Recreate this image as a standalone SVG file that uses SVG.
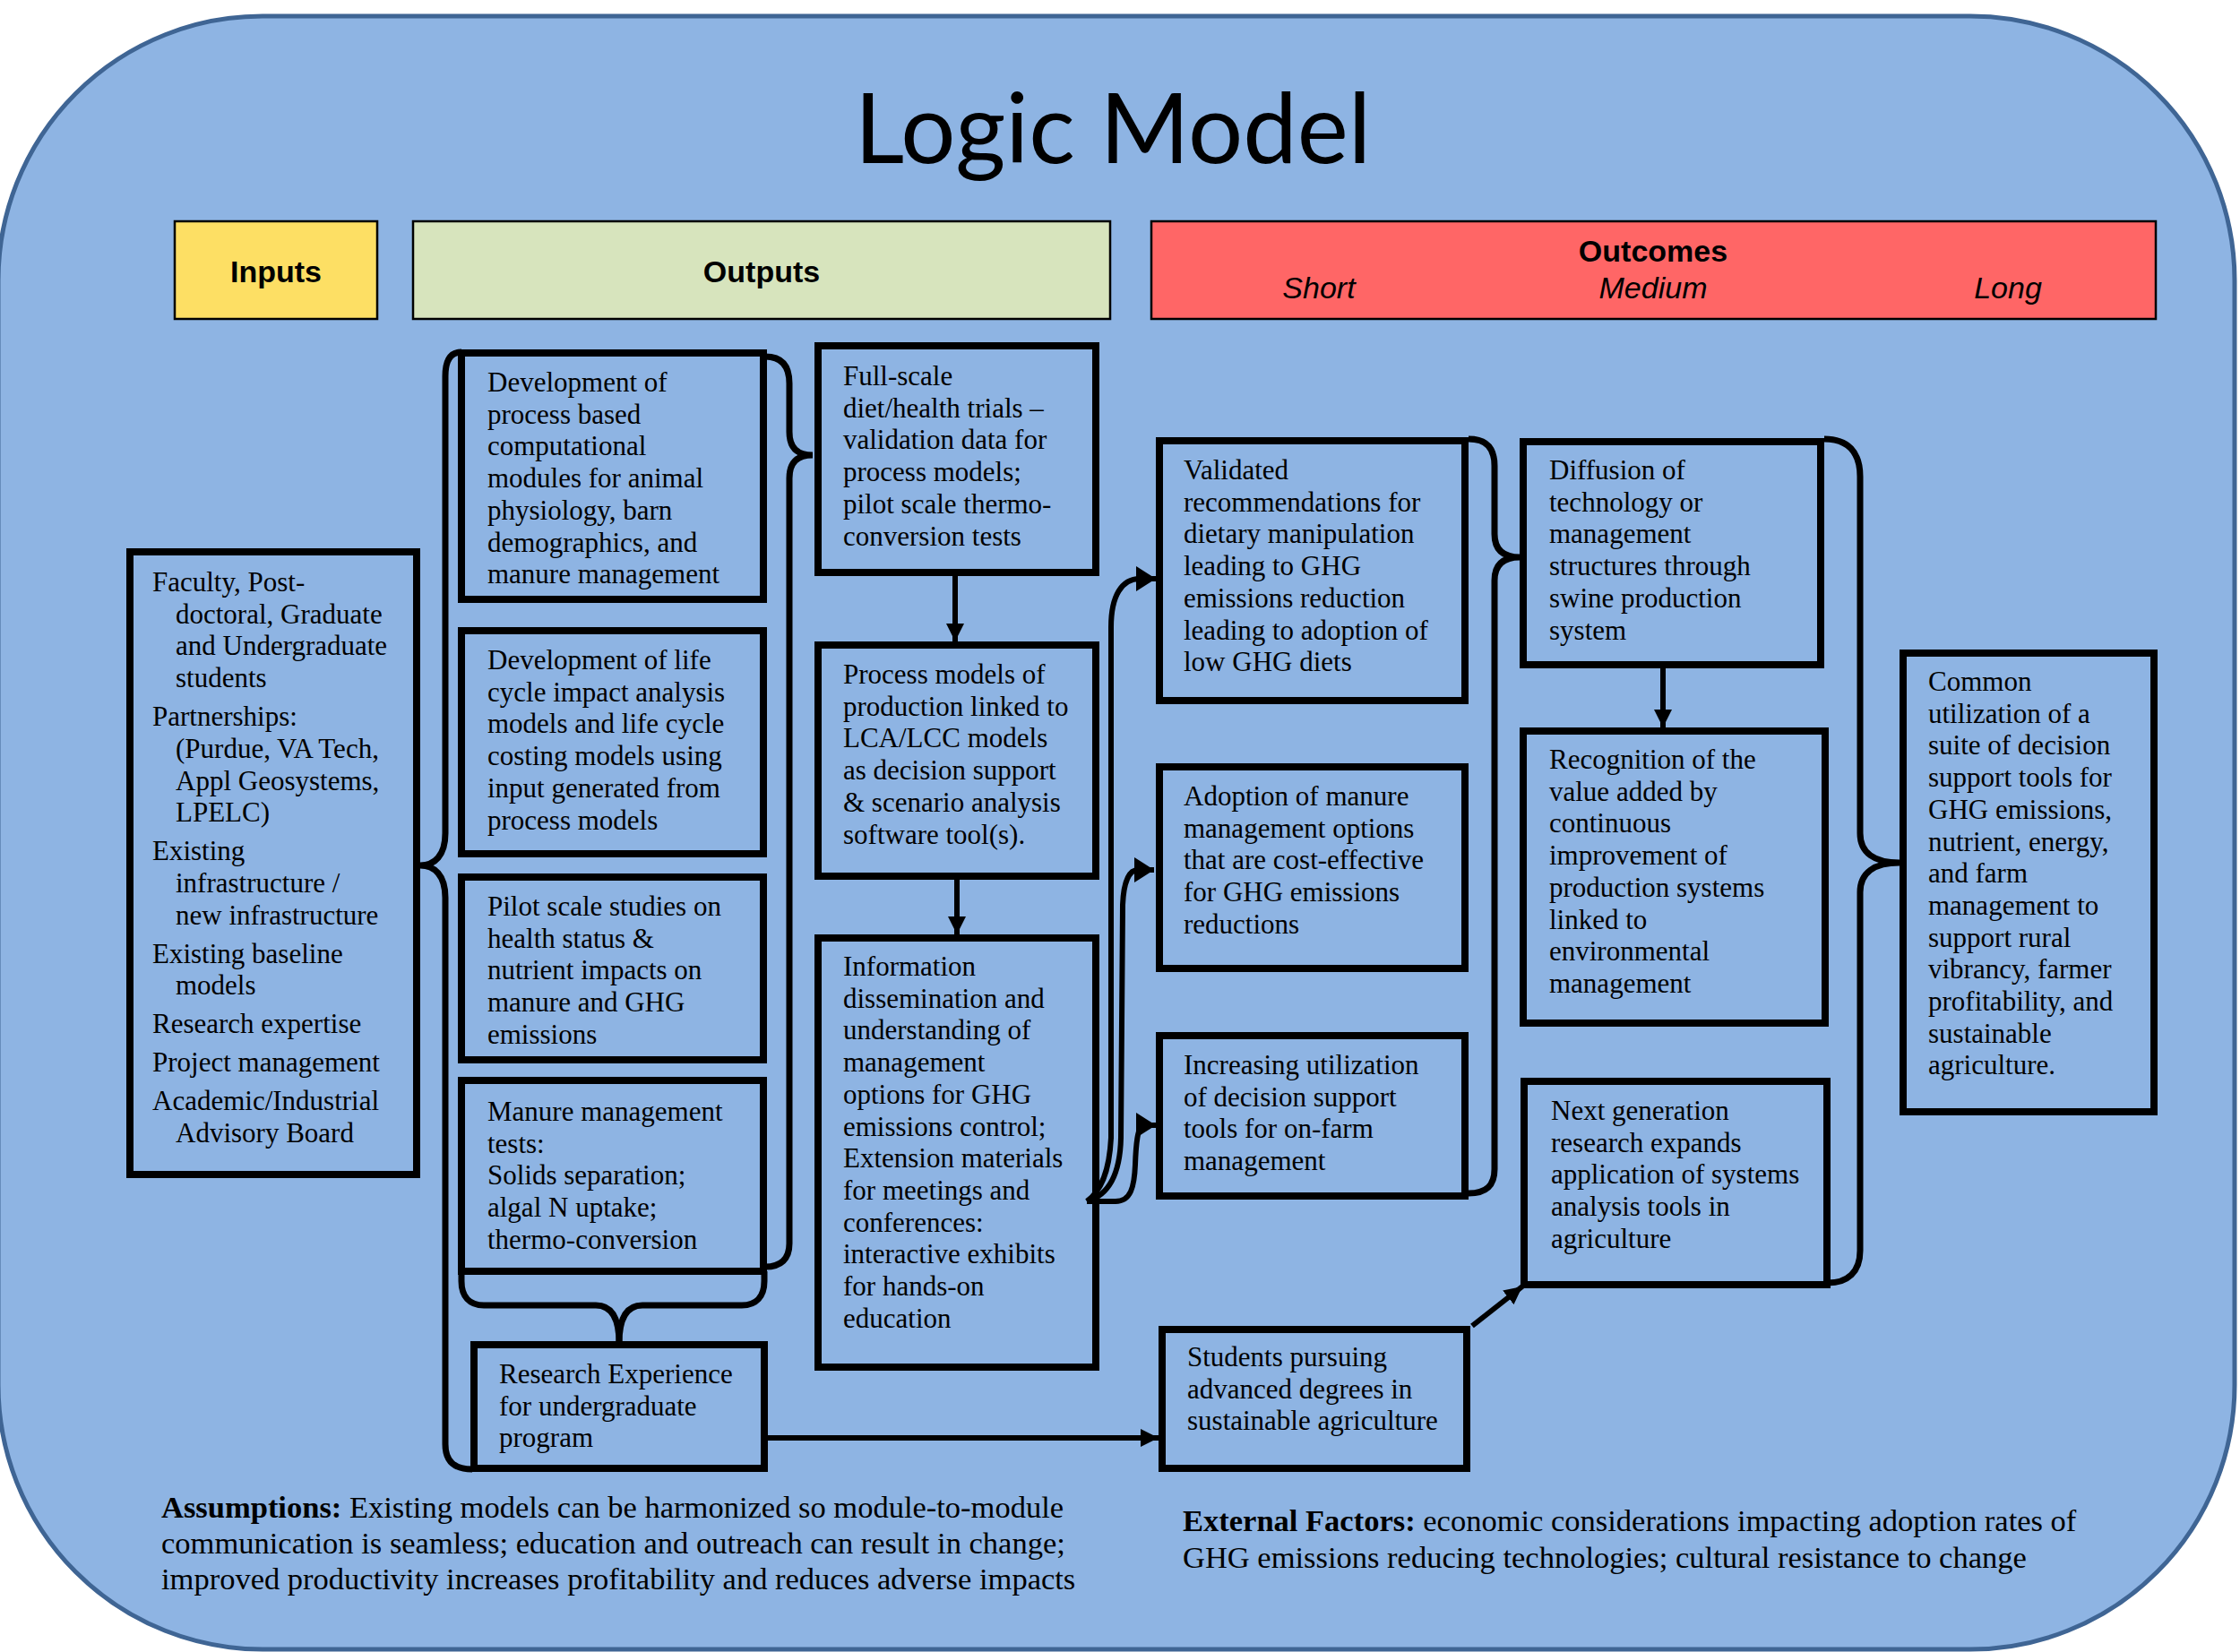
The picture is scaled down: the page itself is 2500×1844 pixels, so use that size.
<svg xmlns="http://www.w3.org/2000/svg" width="2500" height="1844" viewBox="0 0 2500 1844">
  <defs>
    <style>
      .bg { fill: #8EB4E3; stroke: #3F6594; stroke-width: 5; }
      .hdr { stroke: #000; stroke-width: 2.5; }
      .box { fill: none; stroke: #000; stroke-width: 8; }
      .t { font-family: "Liberation Serif", "Times New Roman", serif; font-size: 31px; fill: #000; }
      .hb { font-family: "Liberation Sans", Arial, sans-serif; font-size: 34px; font-weight: bold; fill: #000; }
      .hi { font-family: "Liberation Sans", Arial, sans-serif; font-size: 34px; font-style: italic; fill: #000; }
      .title { font-family: Lato, "Open Sans", sans-serif; font-size: 108px; fill: #000; }
      .foot { font-family: "Liberation Serif", "Times New Roman", serif; font-size: 34.5px; fill: #000; }
      .conn { fill: none; stroke: #000; stroke-width: 6; }
      .brace { fill: none; stroke: #000; stroke-width: 7; }
    </style>
    <marker id="arrow" markerUnits="userSpaceOnUse" viewBox="0 0 20 20" refX="20" refY="10" markerWidth="20" markerHeight="20" orient="auto">
      <path d="M0,0 L20,10 L0,20 z" fill="#000"/>
    </marker>
    <marker id="arrowLg" markerUnits="userSpaceOnUse" viewBox="0 0 22 28" refX="22" refY="14" markerWidth="22" markerHeight="28" orient="auto">
      <path d="M0,0 L22,14 L0,28 z" fill="#000"/>
    </marker>
  </defs>

  <!-- rounded backdrop -->
  <rect class="bg" x="-2" y="18" width="2496" height="1823" rx="295" ry="295"/>

  <text class="title" x="1242" y="182" text-anchor="middle">Logic Model</text>

  <!-- column headers -->
  <g id="header-inputs">
    <rect class="hdr" x="195" y="247" width="226" height="109" fill="#FDDF64"/>
    <text class="hb" x="308" y="315" text-anchor="middle">Inputs</text>
  </g>
  <g id="header-outputs">
    <rect class="hdr" x="461" y="247" width="778" height="109" fill="#D7E4BD"/>
    <text class="hb" x="850" y="315" text-anchor="middle">Outputs</text>
  </g>
  <g id="header-outcomes">
    <rect class="hdr" x="1285" y="247" width="1121" height="109" fill="#FF6666"/>
    <text class="hb" x="1845" y="292" text-anchor="middle">Outcomes</text>
    <text class="hi" x="1472" y="333" text-anchor="middle">Short</text>
    <text class="hi" x="1845" y="333" text-anchor="middle">Medium</text>
    <text class="hi" x="2241" y="333" text-anchor="middle">Long</text>
  </g>

  <!-- connectors: braces and arrows -->
  <g id="connectors">
    <path class="brace" d="M515,393 C503,393 497,402 497,420 L497,930 C497,955 485,966 469,966 C485,966 497,977 497,1002 L497,1612 C497,1630 506,1640 527,1640"/>
    <path class="brace" d="M854,398 C872,398 881,408 881,428 L881,482 C881,500 890,508 907,508 C890,508 881,516 881,534 L881,1388 C881,1405 872,1414 854,1414"/>
    <path class="brace" d="M515,1419 L515,1430 C515,1447 524,1457 540,1457 L665,1457 C682,1457 691,1470 691,1499"/>
    <path class="brace" d="M853,1419 L853,1430 C853,1447 844,1457 828,1457 L717,1457 C700,1457 691,1470 691,1499"/>
    <path class="brace" d="M1639,490 C1659,490 1668,500 1668,520 L1668,596 C1668,614 1678,622 1696,622 C1678,622 1668,630 1668,648 L1668,1305 C1668,1323 1659,1332 1639,1332"/>
    <path class="brace" d="M2036,490 C2062,490 2076,504 2076,532 L2076,930 C2076,952 2092,963 2120,963 C2092,963 2076,974 2076,996 L2076,1396 C2076,1420 2062,1432 2040,1432"/>

    <path class="conn" d="M1066,643 L1066,716" marker-end="url(#arrow)"/>
    <path class="conn" d="M1068,982 L1068,1043" marker-end="url(#arrow)"/>
    <path class="conn" d="M1856,746 L1856,812" marker-end="url(#arrow)"/>
    <path class="conn" d="M857,1605 L1293,1605" marker-end="url(#arrow)"/>
    <path class="conn" d="M1643,1480 L1699,1436" marker-end="url(#arrow)"/>

    <path class="conn" d="M1213,1341 C1228,1330 1238,1310 1240,1270 L1240,700 C1240,665 1252,646 1272,646 L1290,646" marker-end="url(#arrowLg)"/>
    <path class="conn" d="M1213,1341 C1235,1335 1250,1315 1251,1270 L1253,1010 C1254,985 1260,971 1270,971 L1288,971" marker-end="url(#arrowLg)"/>
    <path class="conn" d="M1213,1341 L1245,1341 C1262,1341 1266,1325 1267,1300 C1268,1270 1271,1256 1276,1256 L1290,1256" marker-end="url(#arrowLg)"/>
  </g>

  <!-- inputs -->
  <g id="node-inputs">
    <rect class="box" x="145" y="616" width="320" height="695"/>
    <text class="t">
      <tspan x="170" y="660">Faculty, Post-</tspan>
      <tspan x="196" y="695.7">doctoral, Graduate</tspan>
      <tspan x="196" y="731.4">and Undergraduate</tspan>
      <tspan x="196" y="767.1">students</tspan>
      <tspan x="170" y="810.1">Partnerships:</tspan>
      <tspan x="196" y="845.8">(Purdue, VA Tech,</tspan>
      <tspan x="196" y="881.5">Appl Geosystems,</tspan>
      <tspan x="196" y="917.2">LPELC)</tspan>
      <tspan x="170" y="960.2">Existing</tspan>
      <tspan x="196" y="995.9">infrastructure /</tspan>
      <tspan x="196" y="1031.6">new infrastructure</tspan>
      <tspan x="170" y="1074.6">Existing baseline</tspan>
      <tspan x="196" y="1110.3">models</tspan>
      <tspan x="170" y="1153.3">Research expertise</tspan>
      <tspan x="170" y="1196.3">Project management</tspan>
      <tspan x="170" y="1239.3">Academic/Industrial</tspan>
      <tspan x="196" y="1275">Advisory Board</tspan>
    </text>
  </g>

  <!-- outputs, first column -->
  <g id="node-process-modules">
    <rect class="box" x="515" y="394" width="337" height="275"/>
    <text class="t">
      <tspan x="544" y="437">Development of</tspan>
      <tspan x="544" dy="35.7">process based</tspan>
      <tspan x="544" dy="35.7">computational</tspan>
      <tspan x="544" dy="35.7">modules for animal</tspan>
      <tspan x="544" dy="35.7">physiology, barn</tspan>
      <tspan x="544" dy="35.7">demographics, and</tspan>
      <tspan x="544" dy="35.7">manure management</tspan>
    </text>
  </g>
  <g id="node-lca-models">
    <rect class="box" x="515" y="704" width="337" height="249"/>
    <text class="t">
      <tspan x="544" y="747">Development of life</tspan>
      <tspan x="544" dy="35.7">cycle impact analysis</tspan>
      <tspan x="544" dy="35.7">models and life cycle</tspan>
      <tspan x="544" dy="35.7">costing models using</tspan>
      <tspan x="544" dy="35.7">input generated from</tspan>
      <tspan x="544" dy="35.7">process models</tspan>
    </text>
  </g>
  <g id="node-pilot-studies">
    <rect class="box" x="515" y="979" width="337" height="204"/>
    <text class="t">
      <tspan x="544" y="1022">Pilot scale studies on</tspan>
      <tspan x="544" dy="35.7">health status &amp;</tspan>
      <tspan x="544" dy="35.7">nutrient impacts on</tspan>
      <tspan x="544" dy="35.7">manure and GHG</tspan>
      <tspan x="544" dy="35.7">emissions</tspan>
    </text>
  </g>
  <g id="node-manure-tests">
    <rect class="box" x="515" y="1206" width="337" height="213"/>
    <text class="t">
      <tspan x="544" y="1251">Manure management</tspan>
      <tspan x="544" dy="35.7">tests:</tspan>
      <tspan x="544" dy="35.7">Solids separation;</tspan>
      <tspan x="544" dy="35.7">algal N uptake;</tspan>
      <tspan x="544" dy="35.7">thermo-conversion</tspan>
    </text>
  </g>
  <g id="node-reu">
    <rect class="box" x="529" y="1501" width="324" height="138"/>
    <text class="t">
      <tspan x="557" y="1544">Research Experience</tspan>
      <tspan x="557" dy="35.7">for undergraduate</tspan>
      <tspan x="557" dy="35.7">program</tspan>
    </text>
  </g>

  <!-- outputs, second column -->
  <g id="node-full-scale">
    <rect class="box" x="913" y="386" width="310" height="253"/>
    <text class="t">
      <tspan x="941" y="430">Full-scale</tspan>
      <tspan x="941" dy="35.7">diet/health trials –</tspan>
      <tspan x="941" dy="35.7">validation data for</tspan>
      <tspan x="941" dy="35.7">process models;</tspan>
      <tspan x="941" dy="35.7">pilot scale thermo-</tspan>
      <tspan x="941" dy="35.7">conversion tests</tspan>
    </text>
  </g>
  <g id="node-linked-models">
    <rect class="box" x="913" y="720" width="310" height="258"/>
    <text class="t">
      <tspan x="941" y="763">Process models of</tspan>
      <tspan x="941" dy="35.7">production linked to</tspan>
      <tspan x="941" dy="35.7">LCA/LCC models</tspan>
      <tspan x="941" dy="35.7">as decision support</tspan>
      <tspan x="941" dy="35.7">&amp; scenario analysis</tspan>
      <tspan x="941" dy="35.7">software tool(s).</tspan>
    </text>
  </g>
  <g id="node-dissemination">
    <rect class="box" x="913" y="1047" width="310" height="479"/>
    <text class="t">
      <tspan x="941" y="1089">Information</tspan>
      <tspan x="941" dy="35.7">dissemination and</tspan>
      <tspan x="941" dy="35.7">understanding of</tspan>
      <tspan x="941" dy="35.7">management</tspan>
      <tspan x="941" dy="35.7">options for GHG</tspan>
      <tspan x="941" dy="35.7">emissions control;</tspan>
      <tspan x="941" dy="35.7">Extension materials</tspan>
      <tspan x="941" dy="35.7">for meetings and</tspan>
      <tspan x="941" dy="35.7">conferences:</tspan>
      <tspan x="941" dy="35.7">interactive exhibits</tspan>
      <tspan x="941" dy="35.7">for hands-on</tspan>
      <tspan x="941" dy="35.7">education</tspan>
    </text>
  </g>

  <!-- short-term outcomes -->
  <g id="node-validated">
    <rect class="box" x="1294" y="492" width="341" height="290"/>
    <text class="t">
      <tspan x="1321" y="535">Validated</tspan>
      <tspan x="1321" dy="35.7">recommendations for</tspan>
      <tspan x="1321" dy="35.7">dietary manipulation</tspan>
      <tspan x="1321" dy="35.7">leading to GHG</tspan>
      <tspan x="1321" dy="35.7">emissions reduction</tspan>
      <tspan x="1321" dy="35.7">leading to adoption of</tspan>
      <tspan x="1321" dy="35.7">low GHG diets</tspan>
    </text>
  </g>
  <g id="node-adoption">
    <rect class="box" x="1294" y="856" width="341" height="225"/>
    <text class="t">
      <tspan x="1321" y="899">Adoption of manure</tspan>
      <tspan x="1321" dy="35.7">management options</tspan>
      <tspan x="1321" dy="35.7">that are cost-effective</tspan>
      <tspan x="1321" dy="35.7">for GHG emissions</tspan>
      <tspan x="1321" dy="35.7">reductions</tspan>
    </text>
  </g>
  <g id="node-utilization">
    <rect class="box" x="1294" y="1156" width="341" height="179"/>
    <text class="t">
      <tspan x="1321" y="1199">Increasing utilization</tspan>
      <tspan x="1321" dy="35.7">of decision support</tspan>
      <tspan x="1321" dy="35.7">tools for on-farm</tspan>
      <tspan x="1321" dy="35.7">management</tspan>
    </text>
  </g>
  <g id="node-students">
    <rect class="box" x="1297" y="1484" width="340" height="155"/>
    <text class="t">
      <tspan x="1325" y="1525">Students pursuing</tspan>
      <tspan x="1325" dy="35.7">advanced degrees in</tspan>
      <tspan x="1325" dy="35.7">sustainable agriculture</tspan>
    </text>
  </g>

  <!-- medium-term outcomes -->
  <g id="node-diffusion">
    <rect class="box" x="1700" y="493" width="332" height="249"/>
    <text class="t">
      <tspan x="1729" y="535">Diffusion of</tspan>
      <tspan x="1729" dy="35.7">technology or</tspan>
      <tspan x="1729" dy="35.7">management</tspan>
      <tspan x="1729" dy="35.7">structures through</tspan>
      <tspan x="1729" dy="35.7">swine production</tspan>
      <tspan x="1729" dy="35.7">system</tspan>
    </text>
  </g>
  <g id="node-recognition">
    <rect class="box" x="1700" y="816" width="337" height="326"/>
    <text class="t">
      <tspan x="1729" y="858">Recognition of the</tspan>
      <tspan x="1729" dy="35.7">value added by</tspan>
      <tspan x="1729" dy="35.7">continuous</tspan>
      <tspan x="1729" dy="35.7">improvement of</tspan>
      <tspan x="1729" dy="35.7">production systems</tspan>
      <tspan x="1729" dy="35.7">linked to</tspan>
      <tspan x="1729" dy="35.7">environmental</tspan>
      <tspan x="1729" dy="35.7">management</tspan>
    </text>
  </g>
  <g id="node-next-generation">
    <rect class="box" x="1701" y="1207" width="338" height="227"/>
    <text class="t">
      <tspan x="1731" y="1250">Next generation</tspan>
      <tspan x="1731" dy="35.7">research expands</tspan>
      <tspan x="1731" dy="35.7">application of systems</tspan>
      <tspan x="1731" dy="35.7">analysis tools in</tspan>
      <tspan x="1731" dy="35.7">agriculture</tspan>
    </text>
  </g>

  <!-- long-term outcome -->
  <g id="node-common-utilization">
    <rect class="box" x="2124" y="729" width="280" height="512"/>
    <text class="t">
      <tspan x="2152" y="771">Common</tspan>
      <tspan x="2152" dy="35.7">utilization of a</tspan>
      <tspan x="2152" dy="35.7">suite of decision</tspan>
      <tspan x="2152" dy="35.7">support tools for</tspan>
      <tspan x="2152" dy="35.7">GHG emissions,</tspan>
      <tspan x="2152" dy="35.7">nutrient, energy,</tspan>
      <tspan x="2152" dy="35.7">and farm</tspan>
      <tspan x="2152" dy="35.7">management to</tspan>
      <tspan x="2152" dy="35.7">support rural</tspan>
      <tspan x="2152" dy="35.7">vibrancy, farmer</tspan>
      <tspan x="2152" dy="35.7">profitability, and</tspan>
      <tspan x="2152" dy="35.7">sustainable</tspan>
      <tspan x="2152" dy="35.7">agriculture.</tspan>
    </text>
  </g>

  <!-- notes -->
  <g id="assumptions">
    <text class="foot">
      <tspan x="180" y="1694"><tspan font-weight="bold">Assumptions:</tspan> Existing models can be harmonized so module-to-module</tspan>
      <tspan x="180" y="1734">communication is seamless; education and outreach can result in change;</tspan>
      <tspan x="180" y="1774">improved productivity increases profitability and reduces adverse impacts</tspan>
    </text>
  </g>
  <g id="external-factors">
    <text class="foot">
      <tspan x="1320" y="1709"><tspan font-weight="bold">External Factors:</tspan> economic considerations impacting adoption rates of</tspan>
      <tspan x="1320" y="1750">GHG emissions reducing technologies; cultural resistance to change</tspan>
    </text>
  </g>
</svg>
